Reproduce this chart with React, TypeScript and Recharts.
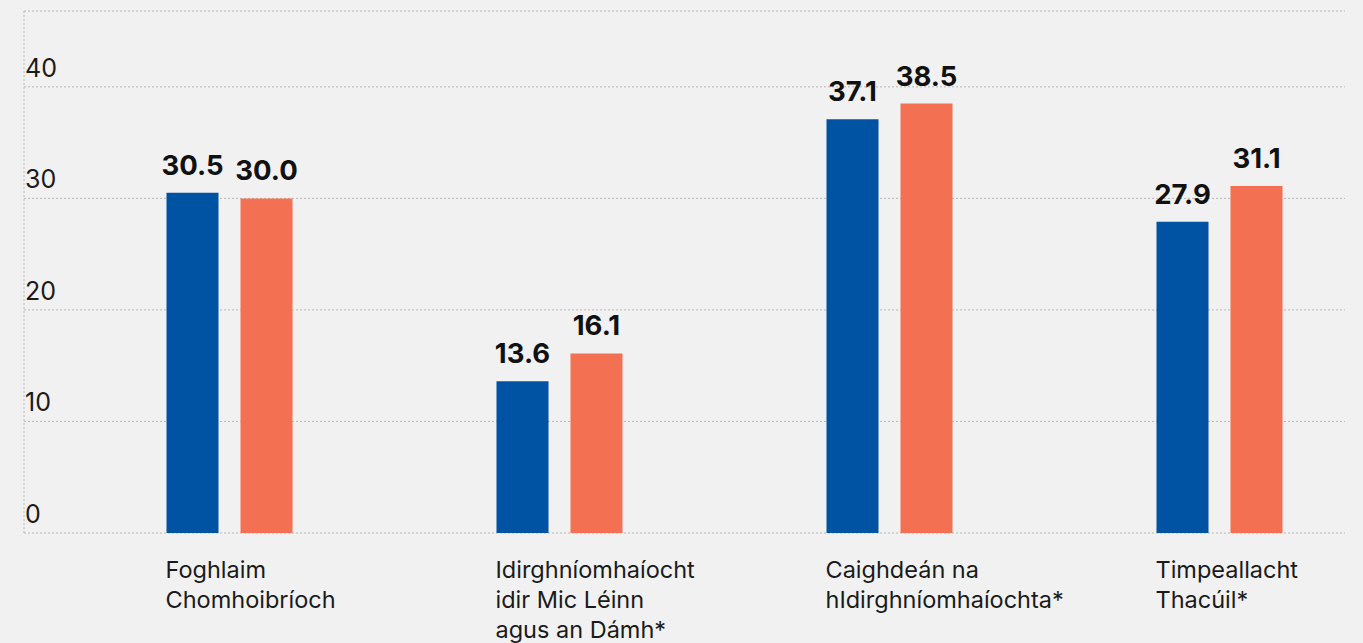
import React from 'react';
import { BarChart, Bar, XAxis, YAxis, CartesianGrid, LabelList } from 'recharts';

const categories = [
  'Foghlaim\nChomhoibríoch',
  'Idirghníomhaíocht\nidir Mic Léinn\nagus an Dámh*',
  'Caighdeán na\nhIdirghníomhaíochta*',
  'Timpeallacht\nThacúil*',
];
const seriesA = [30.5, 13.6, 37.1, 27.9];
const seriesB = [30.0, 16.1, 38.5, 31.1];
const yTicks = [0, 10, 20, 30, 40];

const data = categories.map((c, i) => ({ name: c, a: seriesA[i], b: seriesB[i] }));

const FONT = 'Inter, "Noto Sans", sans-serif';
const BLUE = '#0052a3';
const ORANGE = '#f37053';
const GRID = '#b8b8b8';

const XTick = (props: any) => {
  const { x, y, payload } = props;
  const lines = String(payload.value).split('\n');
  return (
    <text x={x - 64} y={y + 45} textAnchor="start" fontFamily={FONT} fontSize={23.5} fill="#1a1a1a">
      {lines.map((l, i) => (
        <tspan key={i} x={x - 64} dy={i === 0 ? 0 : 30}>{l}</tspan>
      ))}
    </text>
  );
};

const YTick = (props: any) => {
  const { x, y, payload } = props;
  return (
    <text x={x + 1} y={y - 10} textAnchor="start" fontFamily={FONT} fontSize={25} fill="#1a1a1a">
      {payload.value}
    </text>
  );
};

const fmt = (v: any) => Number(v).toFixed(1);

export default function App() {
  return (
    <div style={{ position: 'fixed', left: 0, top: 0, width: 1363, height: 643, background: '#f1f1f1' }}>
      <BarChart
        width={1363}
        height={643}
        data={data}
        margin={{ top: 11, right: 18, left: 0, bottom: 10 }}
        barSize={52}
        barGap={22}
      >
        <CartesianGrid vertical={false} stroke={GRID} strokeDasharray="2 2" />
        <XAxis
          dataKey="name"
          interval={0}
          height={100}
          tickSize={0}
          tickMargin={0}
          axisLine={false}
          tickLine={false}
          padding={{ left: 40.5, right: -39.5 }}
          tick={<XTick />}
        />
        <YAxis
          width={24}
          domain={[0, 46.8]}
          ticks={yTicks}
          tickSize={0}
          tickMargin={0}
          tickLine={false}
          axisLine={{ stroke: GRID, strokeDasharray: '2 2' }}
          tick={<YTick />}
        />
        <Bar dataKey="a" fill={BLUE} isAnimationActive={false}>
          <LabelList dataKey="a" position="top" offset={18} formatter={fmt}
            style={{ fontFamily: FONT, fontSize: 27.5, fontWeight: 700, fill: '#111' }} />
        </Bar>
        <Bar dataKey="b" fill={ORANGE} isAnimationActive={false}>
          <LabelList dataKey="b" position="top" offset={18} formatter={fmt}
            style={{ fontFamily: FONT, fontSize: 27.5, fontWeight: 700, fill: '#111' }} />
        </Bar>
      </BarChart>
    </div>
  );
}
